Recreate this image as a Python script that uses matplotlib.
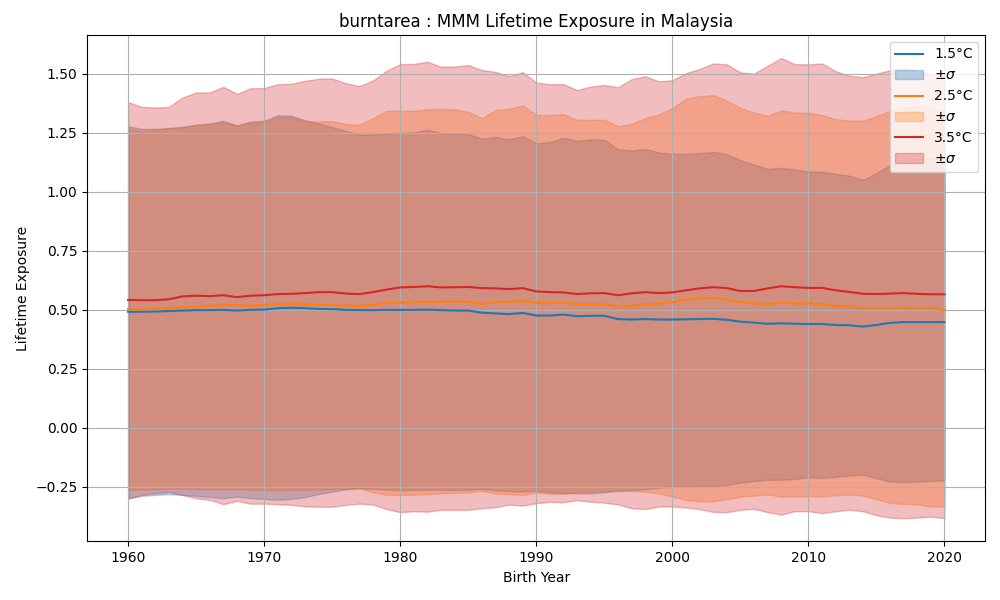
import matplotlib
matplotlib.use("Agg")
import matplotlib.pyplot as plt
import numpy as np

years = list(range(1960, 2021))

mean_15 = [0.492, 0.492, 0.493, 0.495, 0.497, 0.499, 0.499, 0.500, 0.497, 0.500,
           0.501, 0.507, 0.509, 0.507, 0.504, 0.503, 0.500, 0.499, 0.499, 0.500,
           0.500, 0.500, 0.501, 0.499, 0.497, 0.497, 0.488, 0.485, 0.482, 0.487,
           0.476, 0.476, 0.480, 0.473, 0.475, 0.475, 0.461, 0.459, 0.461, 0.459,
           0.459, 0.460, 0.461, 0.462, 0.458, 0.450, 0.446, 0.441, 0.443, 0.441,
           0.440, 0.440, 0.436, 0.435, 0.429, 0.436, 0.445, 0.448, 0.448, 0.448, 0.448]
upper_15 = [1.278, 1.267, 1.267, 1.270, 1.275, 1.284, 1.289, 1.301, 1.281, 1.298,
            1.301, 1.325, 1.322, 1.304, 1.289, 1.274, 1.258, 1.242, 1.243, 1.247,
            1.251, 1.252, 1.263, 1.249, 1.246, 1.245, 1.225, 1.233, 1.222, 1.236,
            1.206, 1.211, 1.229, 1.216, 1.223, 1.220, 1.181, 1.175, 1.182, 1.167,
            1.161, 1.161, 1.164, 1.169, 1.160, 1.134, 1.116, 1.097, 1.102, 1.095,
            1.086, 1.085, 1.076, 1.069, 1.051, 1.079, 1.114, 1.130, 1.140, 1.140, 1.140]
lower_15 = [-0.300, -0.288, -0.284, -0.281, -0.284, -0.288, -0.293, -0.298, -0.291, -0.298,
            -0.301, -0.305, -0.301, -0.293, -0.280, -0.270, -0.260, -0.256, -0.258, -0.262,
            -0.264, -0.263, -0.262, -0.262, -0.263, -0.262, -0.258, -0.265, -0.268, -0.270,
            -0.266, -0.273, -0.276, -0.277, -0.277, -0.273, -0.266, -0.263, -0.260, -0.254,
            -0.249, -0.247, -0.246, -0.246, -0.242, -0.232, -0.225, -0.220, -0.220, -0.216,
            -0.209, -0.212, -0.207, -0.202, -0.198, -0.213, -0.227, -0.230, -0.228, -0.225, -0.222]

mean_25 = [0.503, 0.501, 0.504, 0.507, 0.511, 0.514, 0.517, 0.521, 0.521, 0.517,
           0.521, 0.525, 0.527, 0.525, 0.521, 0.521, 0.518, 0.517, 0.521, 0.530,
           0.531, 0.532, 0.534, 0.535, 0.535, 0.535, 0.525, 0.532, 0.535, 0.539,
           0.529, 0.529, 0.531, 0.525, 0.525, 0.525, 0.513, 0.517, 0.524, 0.527,
           0.533, 0.544, 0.548, 0.550, 0.543, 0.533, 0.528, 0.525, 0.531, 0.528,
           0.528, 0.524, 0.517, 0.513, 0.507, 0.507, 0.507, 0.509, 0.506, 0.507, 0.499]
upper_25 = [1.270, 1.258, 1.264, 1.270, 1.275, 1.284, 1.289, 1.296, 1.281, 1.293,
            1.296, 1.317, 1.316, 1.299, 1.298, 1.300, 1.287, 1.284, 1.312, 1.343,
            1.344, 1.343, 1.350, 1.351, 1.350, 1.339, 1.312, 1.346, 1.352, 1.366,
            1.326, 1.325, 1.329, 1.305, 1.305, 1.306, 1.278, 1.288, 1.312, 1.328,
            1.355, 1.394, 1.405, 1.410, 1.386, 1.355, 1.336, 1.322, 1.345, 1.336,
            1.335, 1.325, 1.308, 1.302, 1.301, 1.321, 1.343, 1.360, 1.360, 1.350, 1.340]
lower_25 = [-0.263, -0.262, -0.260, -0.258, -0.258, -0.259, -0.260, -0.261, -0.260, -0.262,
            -0.263, -0.264, -0.263, -0.263, -0.262, -0.260, -0.258, -0.256, -0.273, -0.284,
            -0.284, -0.283, -0.281, -0.277, -0.276, -0.273, -0.266, -0.278, -0.281, -0.285,
            -0.273, -0.279, -0.279, -0.271, -0.271, -0.268, -0.267, -0.267, -0.271, -0.277,
            -0.291, -0.305, -0.311, -0.311, -0.302, -0.291, -0.287, -0.282, -0.291, -0.290,
            -0.290, -0.290, -0.285, -0.282, -0.287, -0.302, -0.318, -0.322, -0.324, -0.333, -0.333]

mean_35 = [0.542, 0.541, 0.541, 0.545, 0.557, 0.560, 0.558, 0.562, 0.554, 0.560,
           0.562, 0.567, 0.568, 0.571, 0.575, 0.575, 0.569, 0.567, 0.575, 0.586,
           0.595, 0.597, 0.600, 0.595, 0.596, 0.597, 0.592, 0.591, 0.588, 0.592,
           0.578, 0.575, 0.574, 0.567, 0.570, 0.571, 0.562, 0.570, 0.575, 0.571,
           0.574, 0.583, 0.591, 0.596, 0.592, 0.580, 0.580, 0.591, 0.600, 0.596,
           0.593, 0.593, 0.583, 0.576, 0.568, 0.567, 0.569, 0.571, 0.568, 0.566, 0.566]
upper_35 = [1.380, 1.360, 1.357, 1.360, 1.400, 1.421, 1.421, 1.445, 1.415, 1.439,
            1.440, 1.456, 1.458, 1.470, 1.479, 1.480, 1.460, 1.448, 1.472, 1.513,
            1.541, 1.542, 1.551, 1.530, 1.531, 1.537, 1.516, 1.508, 1.490, 1.507,
            1.463, 1.456, 1.456, 1.431, 1.446, 1.453, 1.443, 1.477, 1.490, 1.468,
            1.473, 1.503, 1.520, 1.544, 1.540, 1.506, 1.501, 1.534, 1.567, 1.541,
            1.540, 1.544, 1.511, 1.492, 1.486, 1.501, 1.515, 1.525, 1.510, 1.500, 1.490]
lower_35 = [-0.298, -0.284, -0.277, -0.272, -0.284, -0.298, -0.305, -0.323, -0.309, -0.321,
            -0.321, -0.323, -0.326, -0.332, -0.334, -0.334, -0.326, -0.321, -0.325, -0.344,
            -0.357, -0.353, -0.355, -0.347, -0.347, -0.347, -0.340, -0.336, -0.325, -0.329,
            -0.319, -0.313, -0.315, -0.306, -0.313, -0.317, -0.324, -0.340, -0.344, -0.333,
            -0.333, -0.337, -0.344, -0.356, -0.357, -0.347, -0.343, -0.357, -0.367, -0.353,
            -0.353, -0.361, -0.353, -0.347, -0.353, -0.370, -0.380, -0.383, -0.380, -0.376, -0.382]

scenarios = ["1.5°C", "2.5°C", "3.5°C"]
colors = ["#1f77b4", "#ff7f0e", "#d62728"]
means = [mean_15, mean_25, mean_35]
uppers = [upper_15, upper_25, upper_35]
lowers = [lower_15, lower_25, lower_35]

fig, ax = plt.subplots(figsize=(10, 6), dpi=100)
fig.subplots_adjust(left=0.0873, right=0.9853, top=0.9417, bottom=0.0978)
for lab, c, m, u, l in zip(scenarios, colors, means, uppers, lowers):
    ax.plot(years, m, color=c, label=lab)
    ax.fill_between(years, l, u, color=c, alpha=0.3, label=r"$\pm\sigma$")

ax.set_title("burntarea : MMM Lifetime Exposure in Malaysia")
ax.set_xlabel("Birth Year")
ax.set_ylabel("Lifetime Exposure")
ax.grid(True)
ax.legend(loc="upper right")
fig.savefig("out.png")
